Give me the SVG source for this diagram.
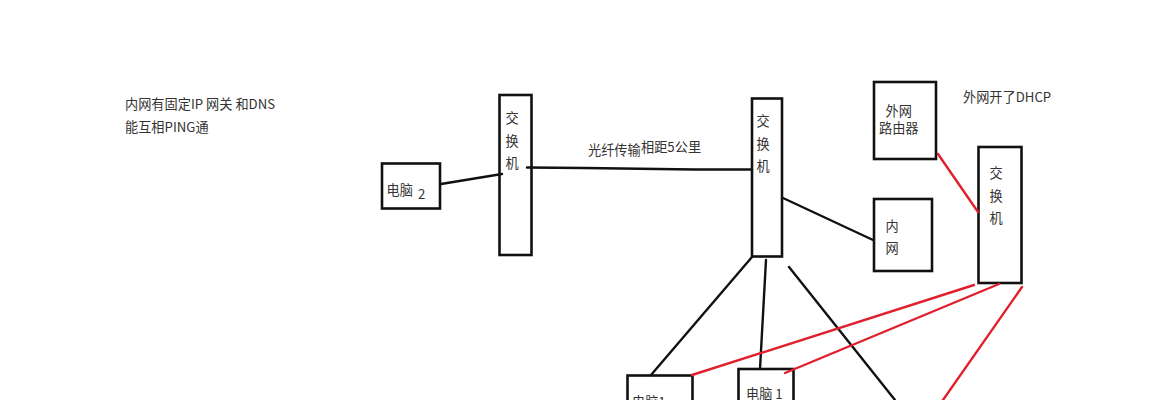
<svg xmlns="http://www.w3.org/2000/svg" width="1169" height="400" viewBox="0 0 1169 400">
<style>
.box{fill:#fff;stroke:#111;stroke-width:2.6}
.k{fill:none;stroke:#111;stroke-width:2.4;stroke-linecap:round;stroke-linejoin:round}
.r{fill:none;stroke:#e0202e;stroke-width:2.4;stroke-linecap:round}
text{font-family:"Noto Sans CJK SC","Noto Sans",sans-serif;font-size:13.200px;fill:#333}
</style>
<rect width="1169" height="400" fill="#fff"/>
<g id="notes">
<text x="125" y="108.500">内网有固定IP 网关 和DNS</text>
<text x="125" y="131.500">能互相PING通</text>
<text x="588" y="155">光纤传输</text>
<text x="641" y="151.500">相距5公里</text>
<text x="963" y="101.500">外网开了DHCP</text>
</g>
<g id="pc2"><rect class="box" x="382" y="163.500" width="58" height="45"/><text x="386.500" y="194.500">电脑</text><text x="418" y="199">2</text></g>
<g id="switch1"><rect class="box" x="499.500" y="95" width="32" height="160"/><text x="505.500" y="123">交</text><text x="505.500" y="146">换</text><text x="505.500" y="167.500">机</text></g>
<g id="switch2"><rect class="box" x="752" y="98.500" width="30" height="158"/><text x="756.500" y="126">交</text><text x="756.500" y="149">换</text><text x="756.500" y="170.500">机</text></g>
<g id="router"><rect class="box" x="874" y="82" width="62" height="77"/><text x="885.500" y="116">外网</text><text x="879" y="133">路由器</text></g>
<g id="lan"><rect class="box" x="874" y="199" width="58" height="72"/><text x="885.500" y="230.500">内</text><text x="885.500" y="252.500">网</text></g>
<g id="switch3"><rect class="box" x="978.500" y="147" width="43" height="136"/><text x="989.500" y="178">交</text><text x="989.500" y="201">换</text><text x="989.500" y="222.500">机</text></g>
<g id="pc1a"><rect class="box" x="627.500" y="375.500" width="65" height="40"/><text x="632" y="407">电脑1</text></g>
<g id="pc1b"><rect class="box" x="738.500" y="369" width="55" height="46"/><text x="746" y="398.500">电脑 1</text></g>
<g id="connectors">
<path class="k" d="M441 184L502 174"/>
<path class="k" d="M527 167.500L584 168L695 169.500L752 169.500"/>
<path class="k" d="M783 198L873 240"/>
<path class="k" d="M752 257L651 375"/>
<path class="k" d="M766 260L760 369"/>
<path class="k" d="M789 267L895 400"/>
<path class="r" d="M938 154L978 212"/>
<path class="r" d="M974 285L692 375"/>
<path class="r" d="M999 284L785 373"/>
<path class="r" d="M1022 287L943 400"/>
</g>
</svg>
